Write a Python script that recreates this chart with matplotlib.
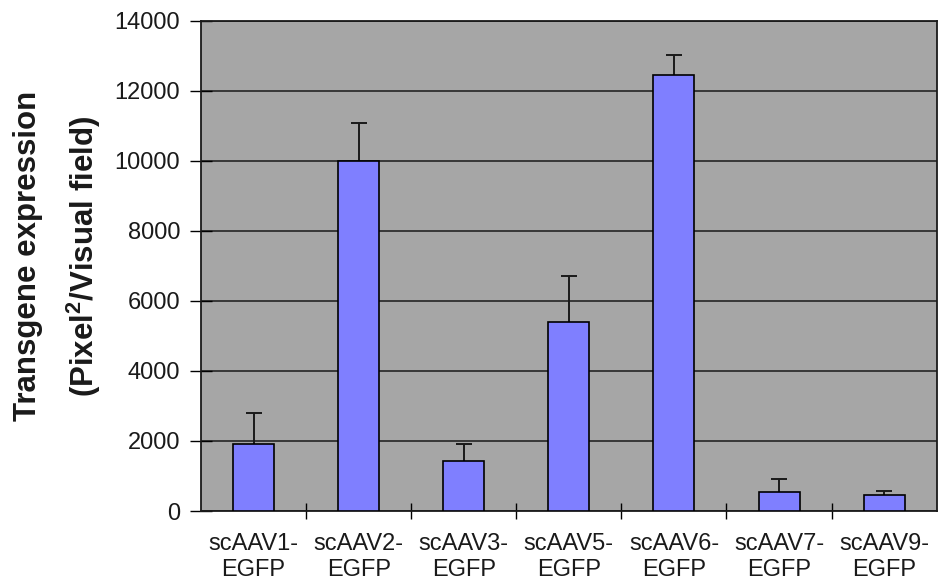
import numpy as np
import matplotlib.pyplot as plt

#%%
vectors = ['scAAV1-\nEGFP', 'scAAV2-\nEGFP', 'scAAV3-\nEGFP', 'scAAV5-\nEGFP',
           'scAAV6-\nEGFP', 'scAAV7-\nEGFP', 'scAAV9-\nEGFP']
expression = [1905, 10000, 1415, 5390, 12440, 530, 470]
expression_err = [885, 1090, 505, 1310, 590, 390, 115]
y_ticks = [0, 2000, 4000, 6000, 8000, 10000, 12000, 14000]

#%%
plt.rcParams['font.family'] = ['Liberation Sans', 'DejaVu Sans']

fig = plt.figure(figsize=(9.38, 5.84), dpi=100)
ax = fig.add_axes([0.2143, 0.125, 0.7843, 0.8395])
ax.set_facecolor('#a6a6a6')

x = np.arange(len(vectors))
ax.bar(x, expression, width=0.39, color='#7f7fff', edgecolor='black', linewidth=1.2, zorder=3)

# only the upper half of the error bars is shown
eb = ax.errorbar(x, expression, yerr=[np.zeros(len(x)), expression_err], fmt='none',
                 ecolor='#1a1a1a', elinewidth=1.4, capsize=6, capthick=1.4, zorder=2)
eb[1][0].set_visible(False)

ax.set_xlim(-0.5, len(vectors) - 0.5)
ax.set_ylim(0, 14000)
ax.set_yticks(y_ticks)
ax.yaxis.grid(True, color='#1a1a1a', linewidth=1.1)
ax.set_axisbelow(True)

# ticks sit between the categories, labels under the bars
ax.set_xticks(x[:-1] + 0.5)
ax.set_xticklabels([])
ax.set_xticks(x, minor=True)
ax.set_xticklabels(vectors, minor=True, fontsize=17, color='#1a1a1a', linespacing=1.2)
ax.tick_params(axis='x', which='minor', length=0, pad=16)
ax.tick_params(axis='x', which='major', length=12, width=1, direction='inout')
ax.tick_params(axis='y', length=16, width=1, direction='inout', pad=7,
               labelsize=17, labelcolor='#1a1a1a')

for s in ax.spines.values():
    s.set_color('#1a1a1a')
    s.set_linewidth(1.3)

ax.set_ylabel('Transgene expression\n(Pixel$^\\mathregular{2}$/Visual field)',
              fontsize=22.5, fontweight='bold', color='#1a1a1a', linespacing=1.75)
ax.yaxis.set_label_coords(-0.133, 0.52)

fig.savefig('out.png', dpi=100)
